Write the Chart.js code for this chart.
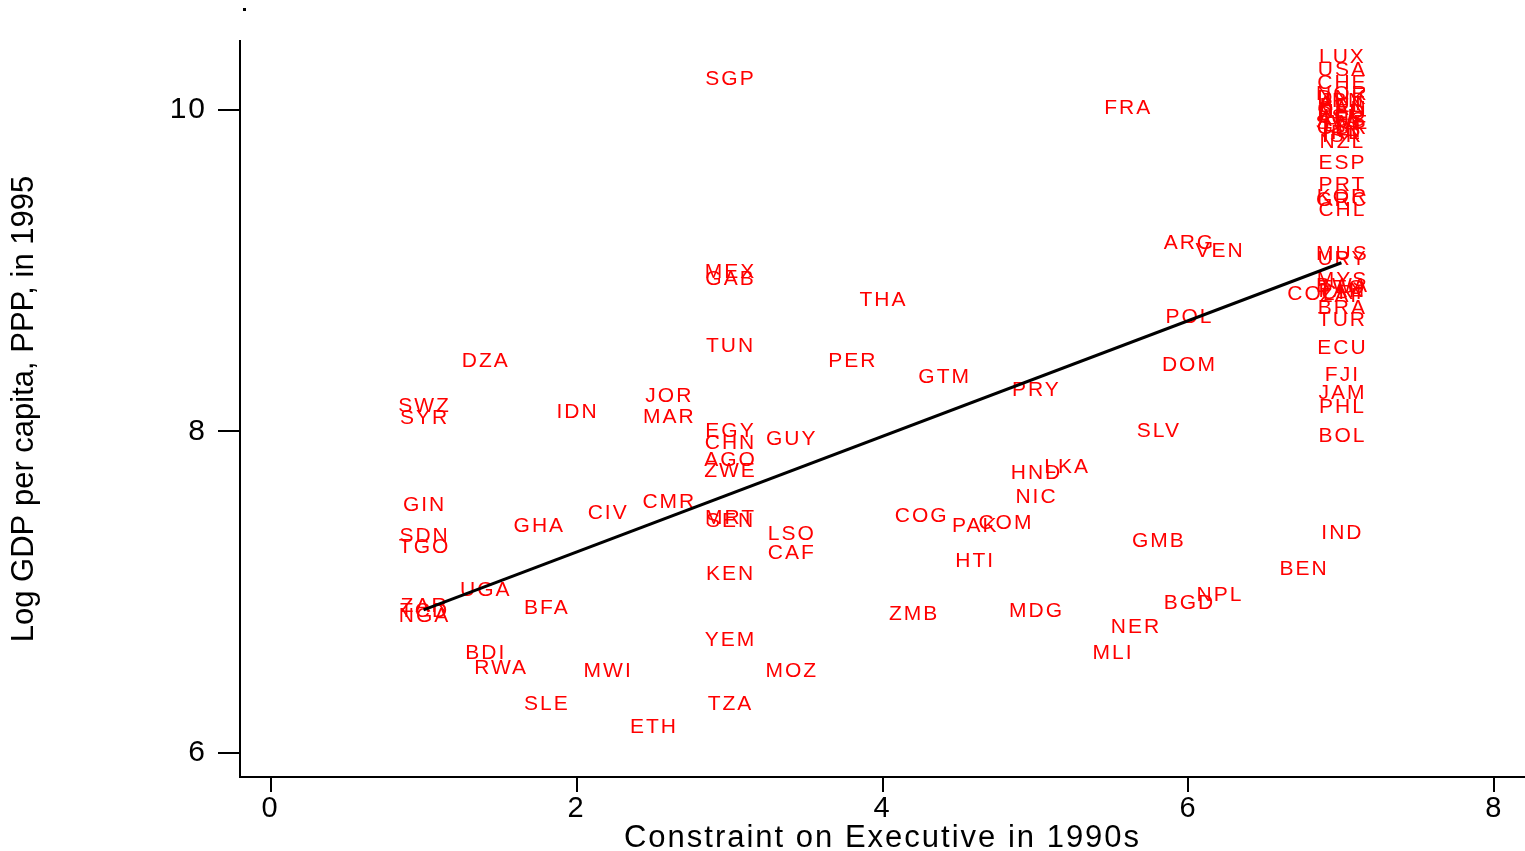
<!DOCTYPE html>
<html>
<head>
<meta charset="utf-8">
<script src="https://cdn.jsdelivr.net/npm/chart.js@4.4.1/dist/chart.umd.min.js"></script>
<style>
  html, body { margin: 0; padding: 0; background: #fff; }
  #wrap { width: 1525px; height: 851px; position: relative; }
</style>
</head>
<body>
<div id="wrap"><canvas id="myChart"></canvas></div>
<script>
// country codes, constraint on executive (1990s), log GDP per capita 1995
const codes = [
  'LUX','USA','CHE','NOR','DNK','JPN','AUT','BEL','CAN','NLD','DEU','ISL','AUS','SWE','ITA','GBR','FIN','IRL','ISR','NZL',
  'ESP','PRT','KOR','GRC','CHL','MUS','URY','MYS','BWA','TTO','PAN','CRI','ZAF','BRA','TUR','ECU','FJI','JAM','PHL','BOL','IND',
  'COL','BEN','SGP','FRA','ARG','VEN','MEX','GAB','THA','POL','TUN','DZA','PER','DOM','GTM','PRY','JOR','SWZ','IDN','SYR','MAR',
  'EGY','SLV','CHN','GUY','AGO','LKA','HND','ZWE','NIC','GIN','CMR','CIV','COG','MRT','SEN','COM','PAK','GHA','LSO','SDN','GMB',
  'TGO','CAF','HTI','KEN','UGA','NPL','BGD','ZAR','TCD','BFA','ZMB','MDG','NGA','NER','YEM','BDI','MLI','RWA','MWI','MOZ','SLE',
  'TZA','ETH'
];
const conX = [
  7,7,7,7,7,7,7,7,7,7,7,7,7,7,7,7,7,7,7,7,
  7,7,7,7,7,7,7,7,7,7,7,7,7,7,7,7,7,7,7,7,7,
  6.8,6.75,3,5.6,6,6.2,3,3,4,6,3,1.4,3.8,6,4.4,5,2.6,1,2,1,2.6,
  3,5.8,3,3.4,3,5.2,5,3,5,1,2.6,2.2,4.25,3,3,4.8,4.6,1.75,3.4,1,5.8,
  1,3.4,4.6,3,1.4,6.2,6,1,1,1.8,4.2,5,1,5.65,3,1.4,5.5,1.5,2.2,3.4,1.8,
  3,2.5
];
const gdpY = [
  10.33,10.25,10.17,10.10,10.075,10.056,10.037,10.025,10.006,9.988,9.975,9.956,9.938,9.919,9.907,9.888,9.869,9.857,9.838,9.80,
  9.67,9.53,9.46,9.44,9.38,9.104,9.073,8.94,8.905,8.89,8.875,8.86,8.845,8.77,8.69,8.52,8.35,8.24,8.15,7.97,7.37,
  8.855,7.14,10.19,10.01,9.17,9.12,8.99,8.95,8.82,8.71,8.53,8.44,8.44,8.41,8.34,8.26,8.22,8.16,8.12,8.08,8.09,
  8.00,8.00,7.93,7.95,7.82,7.78,7.74,7.75,7.59,7.54,7.56,7.49,7.47,7.46,7.44,7.43,7.41,7.41,7.36,7.35,7.32,
  7.28,7.24,7.19,7.11,7.01,6.98,6.93,6.91,6.88,6.90,6.86,6.88,6.85,6.78,6.70,6.62,6.62,6.53,6.51,6.51,6.30,
  6.30,6.16
];
// fitted line end points
const fitX = [1, 7];
const fitY = [6.89, 9.05];

const xTicks = [0, 2, 4, 6, 8];
const yTicks = [6, 8, 10];
const yTitle = 'Log GDP per capita, PPP, in 1995';

const FONT = "'Liberation Sans', Arial, sans-serif";

const codeLabels = {
  id: 'codeLabels',
  beforeDraw(chart) {
    // stata text is drawn a bit wider than the font
    chart.ctx.letterSpacing = '2px';
  },
  beforeDatasetsDraw(chart) {
    const ctx = chart.ctx;
    const meta = chart.getDatasetMeta(0);
    ctx.save();
    ctx.font = '21px ' + FONT;
    ctx.letterSpacing = '2px';
    ctx.fillStyle = '#ff0000';
    ctx.textAlign = 'center';
    ctx.textBaseline = 'middle';
    meta.data.forEach((pt, i) => {
      ctx.fillText(codes[i], pt.x + 1, pt.y);
    });
    ctx.restore();
  },
  afterDraw(chart) {
    const ctx = chart.ctx;
    const area = chart.chartArea;
    ctx.save();
    ctx.fillStyle = '#000';
    ctx.fillRect(243, 8, 3, 3);
    // y axis title, not letter spaced
    ctx.letterSpacing = '0px';
    ctx.translate(24, (area.top + area.bottom) / 2);
    ctx.rotate(-Math.PI / 2);
    ctx.font = '31px ' + FONT;
    ctx.textAlign = 'center';
    ctx.textBaseline = 'middle';
    ctx.fillText(yTitle, 0, 0);
    ctx.restore();
  }
};

const points = conX.map((x, i) => ({ x: x, y: gdpY[i] }));
const fitLine = fitX.map((x, i) => ({ x: x, y: fitY[i] }));

new Chart(document.getElementById('myChart'), {
  type: 'scatter',
  data: {
    datasets: [
      { data: points, pointRadius: 0, pointHoverRadius: 0, backgroundColor: 'transparent' },
      { type: 'line', data: fitLine, borderColor: '#000', borderWidth: 3, pointRadius: 0, fill: false }
    ]
  },
  options: {
    responsive: true,
    maintainAspectRatio: false,
    animation: false,
    events: [],
    layout: { padding: { left: 0, right: 0, top: 41, bottom: 0 } },
    plugins: { legend: { display: false }, tooltip: { enabled: false } },
    scales: {
      x: {
        type: 'linear',
        min: -0.2,
        max: 8.2,
        afterBuildTicks: (s) => { s.ticks = xTicks.map(v => ({ value: v })); },
        afterFit: (s) => { s.height = 74; },
        border: { display: true, color: '#000', width: 2 },
        grid: { drawOnChartArea: false, color: '#000', lineWidth: 2, tickLength: 15 },
        ticks: { color: '#000', font: { family: FONT, size: 29 }, padding: 0, maxRotation: 0 },
        title: { display: true, text: 'Constraint on Executive in 1990s', color: '#000',
                 font: { family: FONT, size: 31 }, padding: { top: 0, bottom: -6 } }
      },
      y: {
        type: 'linear',
        min: 5.85,
        max: 10.43,
        afterBuildTicks: (s) => { s.ticks = yTicks.map(v => ({ value: v })); },
        afterFit: (s) => { s.width = 240; },
        border: { display: true, color: '#000', width: 2 },
        grid: { drawOnChartArea: false, color: '#000', lineWidth: 2, tickLength: 22 },
        ticks: { color: '#000', font: { family: FONT, size: 30 }, padding: 11 },
        title: { display: false }
      }
    }
  },
  plugins: [codeLabels]
});
</script>
</body>
</html>
